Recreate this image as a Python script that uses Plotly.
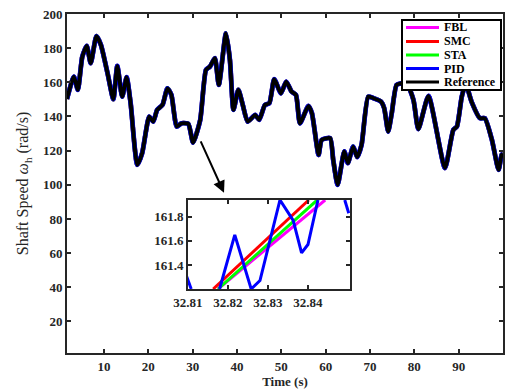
import plotly.graph_objects as go

# ---- main-plot data (time in s, shaft speed in rad/s) ----
t_ref = [1.65, 3.2, 4.1, 5.1, 6.1, 7.0, 8.3, 9.3, 10.8, 12.1, 13.0, 14.1, 15.1, 16.0, 17.5, 18.6,
         20.2, 21.1, 22.0, 23.2, 24.3, 25.2, 26.4, 27.5, 29.0, 30.1, 31.7, 33.0, 33.9, 35.0, 35.9,
         37.5, 38.4, 39.2, 40.3, 41.3, 42.4, 44.1, 45.0, 46.3, 47.3, 48.4, 49.9, 51.1, 52.3, 53.3,
         54.2, 56.1, 56.9, 58.4, 59.1, 61.0, 61.7, 62.7, 64.2, 65.0, 66.2, 67.1, 68.1, 69.6, 70.8,
         72.5, 73.2, 74.1, 74.9, 76.0, 77.2, 78.2, 79.8, 80.9, 83.2, 86.9, 88.8, 89.6, 90.7, 91.6,
         92.9, 94.8, 95.9, 97.5, 99.0, 99.7, 100.0]
w_ref = [150.3, 163.3, 155.6, 175.0, 181.3, 171.2, 187.1, 181.9, 165.3, 150.1, 169.6, 151.6, 163.0,
         147.8, 111.7, 118.5, 139.9, 137.0, 143.9, 146.8, 156.5, 152.6, 134.1, 136.0, 135.7, 124.7,
         138.0, 167.3, 169.2, 174.1, 158.5, 188.7, 173.1, 143.9, 155.6, 146.8, 137.0, 140.9, 138.0,
         146.8, 147.8, 161.8, 153.6, 160.4, 154.6, 152.6, 136.0, 146.2, 141.9, 117.5, 126.3, 127.3,
         114.6, 100.0, 119.5, 112.7, 122.4, 116.2, 123.4, 151.6, 150.7, 148.7, 144.9, 131.2, 141.9,
         158.5, 159.5, 160.0, 149.7, 132.6, 152.0, 109.8, 132.2, 134.1, 151.6, 159.0, 148.7, 139.0,
         139.0, 126.3, 108.8, 117.5, 118.0]
# controllers track the reference (indistinguishable at full scale)
w_fbl = list(w_ref)
w_smc = list(w_ref)
w_sta = list(w_ref)
w_pid = list(w_ref)

# ---- inset (zoomed) data ----
ti_fbl = [32.8175, 32.8443]
wi_fbl = [161.2, 161.94]
ti_smc = [32.8163, 32.8402]
wi_smc = [161.2, 161.94]
ti_sta = [32.8175, 32.8423]
wi_sta = [161.2, 161.94]
ti_pid = [32.8095, 32.8108, None, 32.8179, 32.8217, 32.8258, 32.8280, 32.8330, 32.8363, 32.8384,
          32.8400, 32.8425]
wi_pid = [161.32, 161.2, None, 161.2, 161.65, 161.2, 161.27, 161.94, 161.77, 161.5, 161.57, 161.94]
ti_pid2 = [32.8492, 32.8502]
wi_pid2 = [161.94, 161.83]

main_ticks = [10, 20, 30, 40, 50, 60, 70, 80, 90, 100]
y_ticks = [20, 40, 60, 80, 100, 120, 140, 160, 180, 200]
inset_xticks = [32.81, 32.82, 32.83, 32.84]
inset_yticks = [161.4, 161.6, 161.8]

names = ["FBL", "SMC", "STA", "PID", "Reference"]
colors = ["#FF00FF", "#FF0000", "#00FF00", "#0000FF", "#000000"]

FONT = "Liberation Serif"
AX = "#262626"

# plot-area pixel geometry
L, R, T, B = 67, 503, 14, 353
W, H = 508, 389


def px2paper(px, py):
    return (px - L) / (R - L), (B - py) / (B - T)


def bold(v, fmt):
    return "<b>" + fmt.format(v) + "</b>"


fig = go.Figure()
main_series = [w_fbl, w_smc, w_sta, w_pid, w_ref]
widths = [4.5, 4.5, 4.5, 4.8, 3.8]
for nm, col, ys, lw in zip(names, colors, main_series, widths):
    fig.add_trace(go.Scatter(x=t_ref, y=ys, mode="lines", name=nm, showlegend=False,
                             line=dict(color=col, width=lw, shape="spline", smoothing=0.55),
                             xaxis="x", yaxis="y"))

for tx, wy, col in [(ti_fbl, wi_fbl, colors[0]), (ti_smc, wi_smc, colors[1]),
                    (ti_sta, wi_sta, colors[2]), (ti_pid, wi_pid, colors[3]),
                    (ti_pid2, wi_pid2, colors[3])]:
    fig.add_trace(go.Scatter(x=tx, y=wy, mode="lines", showlegend=False, connectgaps=False,
                             line=dict(color=col, width=3), xaxis="x2", yaxis="y2"))

tickfont = dict(family=FONT, size=13, color=AX)
common = dict(showline=True, linecolor=AX, linewidth=2, mirror="ticks", ticks="inside",
              ticklen=4, tickwidth=2, tickcolor=AX, showgrid=False, zeroline=False,
              tickfont=tickfont, automargin=False)

fig.update_layout(
    width=W, height=H,
    margin=dict(l=L, r=W - R, t=T, b=H - B),
    paper_bgcolor="white", plot_bgcolor="white",
    xaxis=dict(range=[1.65, 100], tickvals=main_ticks,
               ticktext=[bold(v, "{}") for v in main_ticks],
               title=dict(text="<b>Time (s)</b>", font=dict(family=FONT, size=13, color=AX),
                          standoff=4),
               domain=[0, 1], **common),
    yaxis=dict(range=[1.5, 200], tickvals=y_ticks,
               ticktext=[bold(v, "{}") for v in y_ticks],
               title=dict(text="Shaft Speed <i>ω</i><sub>h</sub> (rad/s)",
                          font=dict(family=FONT, size=16, color=AX), standoff=10),
               domain=[0, 1], **common),
    xaxis2=dict(range=[32.81, 32.8505], tickvals=inset_xticks,
                ticktext=[bold(v, "{:.2f}") for v in inset_xticks],
                domain=[0.2775, 0.649], anchor="y2", layer="above traces", **common),
    yaxis2=dict(range=[161.2, 161.94], tickvals=inset_yticks,
                ticktext=[bold(v, "{:.1f}") for v in inset_yticks],
                domain=[0.1888, 0.4513], anchor="x2", layer="above traces", **common),
    showlegend=False,
)

# ---- legend box (drawn in paper coordinates) ----
x0, y0 = px2paper(402, 90)
x1, y1 = px2paper(501, 20)
fig.add_shape(type="rect", xref="paper", yref="paper", x0=x0, y0=y0, x1=x1, y1=y1,
              fillcolor="white", line=dict(color="#000000", width=2), layer="above")
row_y = [27.5, 41.5, 55.0, 68.5, 82.0]
for nm, col, ry in zip(names, colors, row_y):
    lx0, ly = px2paper(406, ry)
    lx1, _ = px2paper(439, ry)
    fig.add_shape(type="line", xref="paper", yref="paper", x0=lx0, y0=ly, x1=lx1, y1=ly,
                  line=dict(color=col, width=3), layer="above")
    tx, _ = px2paper(442, ry)
    fig.add_annotation(x=tx, y=ly, xref="paper", yref="paper", text="<b>" + nm + "</b>",
                       showarrow=False, xanchor="left", yanchor="middle",
                       font=dict(family=FONT, size=12, color="#000000"))

fig.add_annotation(x=37.07, y=95.3, xref="x", yref="y", ax=-24, ay=-53,
                   axref="pixel", ayref="pixel", showarrow=True, arrowhead=2,
                   arrowsize=1.2, arrowwidth=2, arrowcolor="#000000", text="")

fig.write_html("out.html", config={"displayModeBar": False},
               post_script="document.body.style.margin='0';")
